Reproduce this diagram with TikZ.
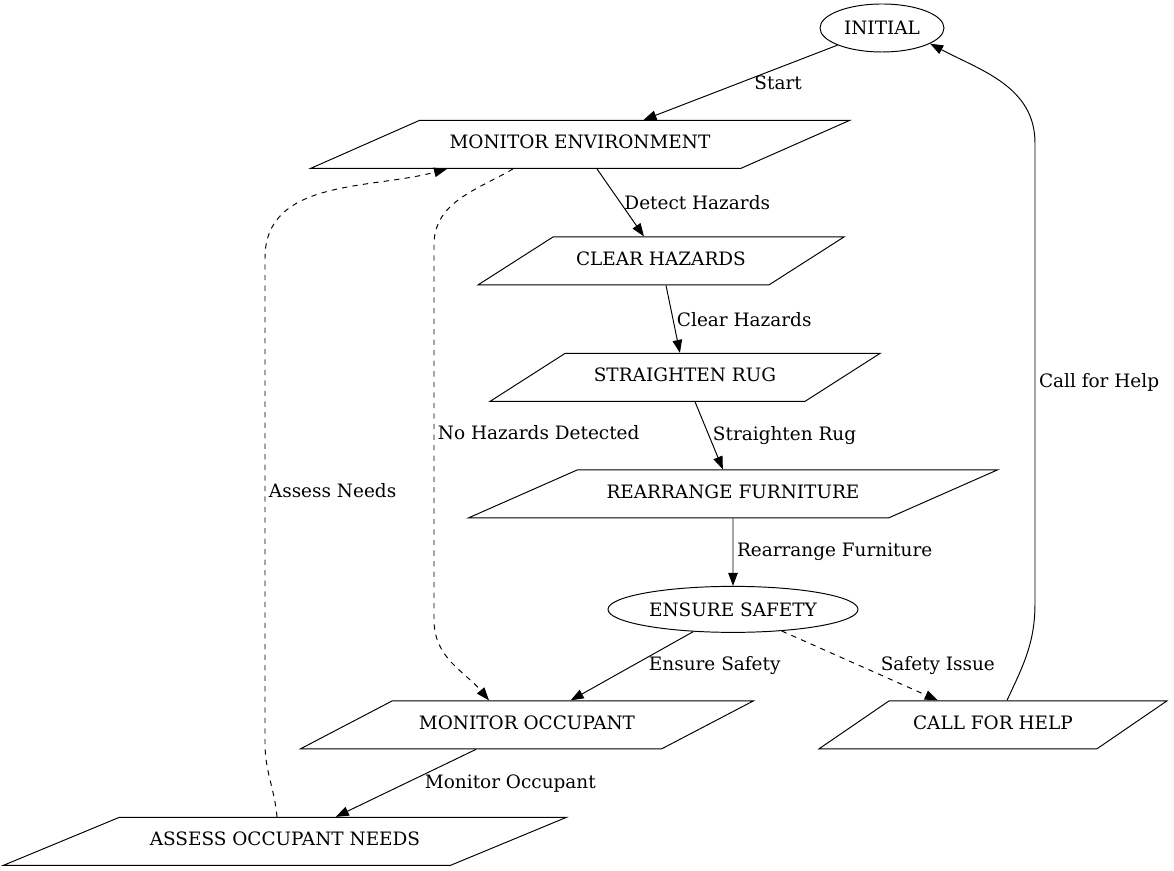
\documentclass[tikz,border=0pt]{standalone}
\usepackage{fontspec}
\setmainfont{DejaVu Serif}
\usetikzlibrary{positioning,shapes.geometric,arrows.meta}

\tikzset{
  state/.style={ellipse, draw, inner sep=0pt},
  io/.style={trapezium, draw, trapezium left angle=#1, trapezium right angle={180-#1},
    trapezium stretches body, text height=2.6mm, text depth=0.8mm, inner xsep=0pt, inner ysep=3.1mm},
  lbl/.style={right, inner sep=2pt},
  flow/.style={-{Triangle[length=0.26cm,width=0.19cm]}},
}

\begin{document}
\begin{tikzpicture}[node distance=1.35cm, line width=0.55pt, font=\fontsize{10.5}{12.6}\selectfont]

  \useasboundingbox (-17.64,0.56) rectangle (5.84,-16.86);

  \node (init) [state, minimum width=2.48cm, minimum height=0.96cm] {INITIAL};
  \node (monenv) [io=23.8, minimum width=10.78cm, below=of init, xshift=-6.04cm] {MONITOR ENVIRONMENT};
  \node (clear) [io=32.6, minimum width=7.32cm, below=of monenv, xshift=1.62cm] {CLEAR HAZARDS};
  \node (rug) [io=32.6, minimum width=7.8cm, below=of clear, xshift=0.48cm] {STRAIGHTEN RUG};
  \node (furn) [io=23.8, minimum width=10.58cm, below=of rug, xshift=0.96cm] {REARRANGE FURNITURE};
  \node (safe) [state, minimum width=5cm, minimum height=0.92cm, below=of furn] {ENSURE SAFETY};
  \node (monocc) [io=27.6, minimum width=9.06cm, below=of safe, xshift=-4.12cm] {MONITOR OCCUPANT};
  \node (help) [io=34.4, minimum width=6.96cm, below=of safe, xshift=5.2cm] {CALL FOR HELP};
  \node (assess) [io=22.5, minimum width=11.26cm, below=of monocc, xshift=-4.84cm] {ASSESS OCCUPANT NEEDS};

  % bend points of the long edges
  \coordinate (h1) at (3.06,-11.5);
  \coordinate (h2) at (3.06,-2.3);
  \coordinate (a1) at (-12.34,-14.3);
  \coordinate (a2) at (-12.34,-4.6);
  \coordinate (n1) at (-8.96,-4.34);
  \coordinate (n2) at (-8.96,-11.84);

  \draw [flow] (init) -- node [lbl, xshift=0.2cm] {Start} (monenv);
  \draw [flow] (monenv) -- node [lbl] {Detect Hazards} (clear);
  \draw [flow] (clear) -- node [lbl] {Clear Hazards} (rug);
  \draw [flow] (rug) -- node [lbl] {Straighten Rug} (furn);
  \draw [flow] (furn) -- node [lbl] {Rearrange Furniture} (safe);
  \draw [flow] (safe) -- node [lbl, xshift=0.26cm] {Ensure Safety} (monocc);
  \draw [flow, dashed] (safe) -- node [lbl, xshift=0.34cm] {Safety Issue} (help);
  \draw [flow] (monocc) -- node [lbl, xshift=0.3cm] {Monitor Occupant} (assess);

  \draw [flow] ([xshift=0.28cm]help.north) to [out=65, in=-90] (h1)
    -- node [lbl, pos=0.48] {Call for Help} (h2) to [out=90, in=-28] (init.-18);
  \draw [flow, dashed] ([xshift=-0.16cm]assess.north) to [out=95, in=-90] (a1)
    -- node [lbl, pos=0.52] {Assess Needs} (a2) to [out=90, in=-165] ([xshift=-2.66cm]monenv.south);
  \draw [flow, dashed] ([xshift=-1.34cm]monenv.south) to [out=-150, in=90] (n1)
    -- node [lbl] {No Hazards Detected} (n2) to [out=-90, in=130] ([xshift=-0.76cm]monocc.north);

\end{tikzpicture}
\end{document}
